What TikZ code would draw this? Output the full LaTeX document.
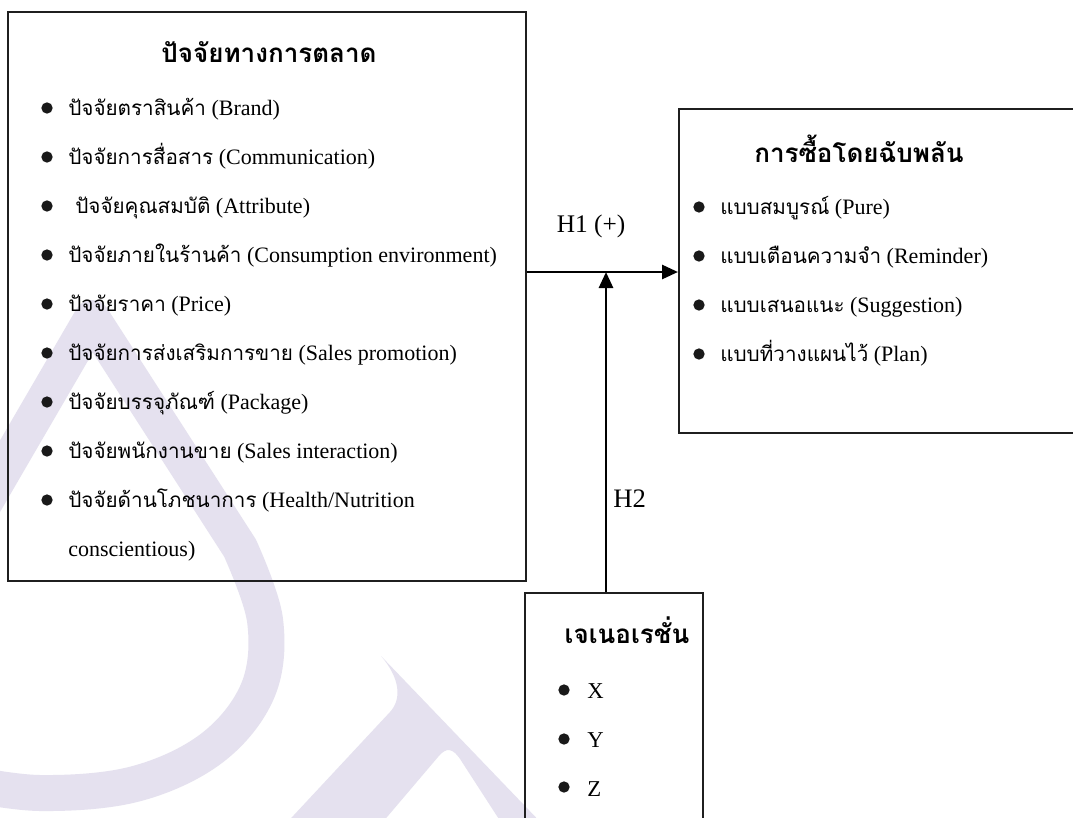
\documentclass[tikz,border=0pt]{standalone}
\usepackage{fontspec}
\setmainfont{Liberation Serif}
\newfontfamily\thai[Script=Thai]{Loma}
\usetikzlibrary{arrows.meta,fit}
\definecolor{wmcol}{RGB}{229,225,239}
\newcommand\tht[1]{{\thai\fontsize{15.5}{18}\selectfont #1}}
\begin{document}
\begin{tikzpicture}[x=0.75pt,y=-0.75pt,
  box/.style={draw=black!88, line width=1.5pt, inner sep=0pt},
  bul/.style={circle, fill=black!90, inner sep=0pt, minimum size=8.5pt},
  item/.style={anchor=base west, inner sep=0pt, font=\fontsize{16.5}{18}\selectfont},
  ttl/.style={anchor=base, inner sep=0pt, font=\thai\bfseries\fontsize{19.5}{22}\selectfont},
  conn/.style={line width=2.1pt, -{Triangle[length=12pt,width=10.5pt]}},
  lab/.style={anchor=base west, inner sep=0pt}]
\useasboundingbox (0,0) rectangle (1073,817);
\fill[white] (0,0) rectangle (1073,817);
\clip (0,0) rectangle (1073,817);
% watermark
\draw[wmcol, line width=27pt, line join=round]
  (-40,545) -- (92,318) -- (240,548)
  -- plot[smooth, tension=0.6] coordinates {(240,548) (265,620) (258,690) (212,748) (135,784) (40,793) (-40,782)};
\fill[wmcol] (381,656) -- (548,830) -- (506,830) -- (462,762)
  .. controls (453,747) and (446,747) .. (438,757) -- (376,830) -- (280,830)
  -- (390,712) .. controls (402,699) and (400,678) .. (381,656) -- cycle;
% boxes
\node[box, fit={(8,12) (526,581)}] (L) {};
\node[box, fit={(679,109) (1090,433)}] (R) {};
\node[box, fit={(525,593) (703,840)}] (G) {};
% left box content
\node[ttl] (Lt) at (269,63) {ปัจจัยทางการตลาด};
\node[bul] (lb1) at (47,108) {};
\node[item] (li1) at (68,115) {\tht{ปัจจัยตราสินค้า} (Brand)};
\node[bul] (lb2) at (47,157) {};
\node[item] (li2) at (68,164) {\tht{ปัจจัยการสื่อสาร} (Communication)};
\node[bul] (lb3) at (47,206) {};
\node[item] (li3) at (75,213) {\tht{ปัจจัยคุณสมบัติ} (Attribute)};
\node[bul] (lb4) at (47,255) {};
\node[item] (li4) at (68,262) {\tht{ปัจจัยภายในร้านค้า} (Consumption environment)};
\node[bul] (lb5) at (47,304) {};
\node[item] (li5) at (68,311) {\tht{ปัจจัยราคา} (Price)};
\node[bul] (lb6) at (47,353) {};
\node[item] (li6) at (68,360) {\tht{ปัจจัยการส่งเสริมการขาย} (Sales promotion)};
\node[bul] (lb7) at (47,402) {};
\node[item] (li7) at (68,409) {\tht{ปัจจัยบรรจุภัณฑ์} (Package)};
\node[bul] (lb8) at (47,451) {};
\node[item] (li8) at (68,458) {\tht{ปัจจัยพนักงานขาย} (Sales interaction)};
\node[bul] (lb9) at (47,500) {};
\node[item] (li9) at (68,507) {\tht{ปัจจัยด้านโภชนาการ} (Health/Nutrition};
\node[item] (li10) at (68,556) {conscientious)};
% right box content
\node[ttl] (Rt) at (859,162) {การซื้อโดยฉับพลัน};
\node[bul] (rb1) at (699,207) {};
\node[item] (ri1) at (720,214) {\tht{แบบสมบูรณ์} (Pure)};
\node[bul] (rb2) at (699,256) {};
\node[item] (ri2) at (720,263) {\tht{แบบเตือนความจำ} (Reminder)};
\node[bul] (rb3) at (699,305) {};
\node[item] (ri3) at (720,312) {\tht{แบบเสนอแนะ} (Suggestion)};
\node[bul] (rb4) at (699,354) {};
\node[item] (ri4) at (720,361) {\tht{แบบที่วางแผนไว้} (Plan)};
% generation box content
\node[ttl] (Gt) at (627,643) {เจเนอเรชั่น};
\node[bul] (gb1) at (564,690) {};
\node[item, font=\fontsize{17}{19}\selectfont] (gi1) at (587,698) {X};
\node[bul] (gb2) at (564,739) {};
\node[item, font=\fontsize{17}{19}\selectfont] (gi2) at (587,747) {Y};
\node[bul] (gb3) at (564,787) {};
\node[item, font=\fontsize{17}{19}\selectfont] (gi3) at (587,796) {Z};
% connectors
\coordinate (j) at (606,272);
\draw[conn] (L.east |- j) -- (R.west |- j);
\draw[conn] (G.north -| j) -- (j);
\node[lab, anchor=base, font=\fontsize{19}{22}\selectfont] (h1) at (591,232) {H1 (+)};
\node[lab, font=\fontsize{20}{22}\selectfont] (h2) at (613,507) {H2};
\end{tikzpicture}
\end{document}
